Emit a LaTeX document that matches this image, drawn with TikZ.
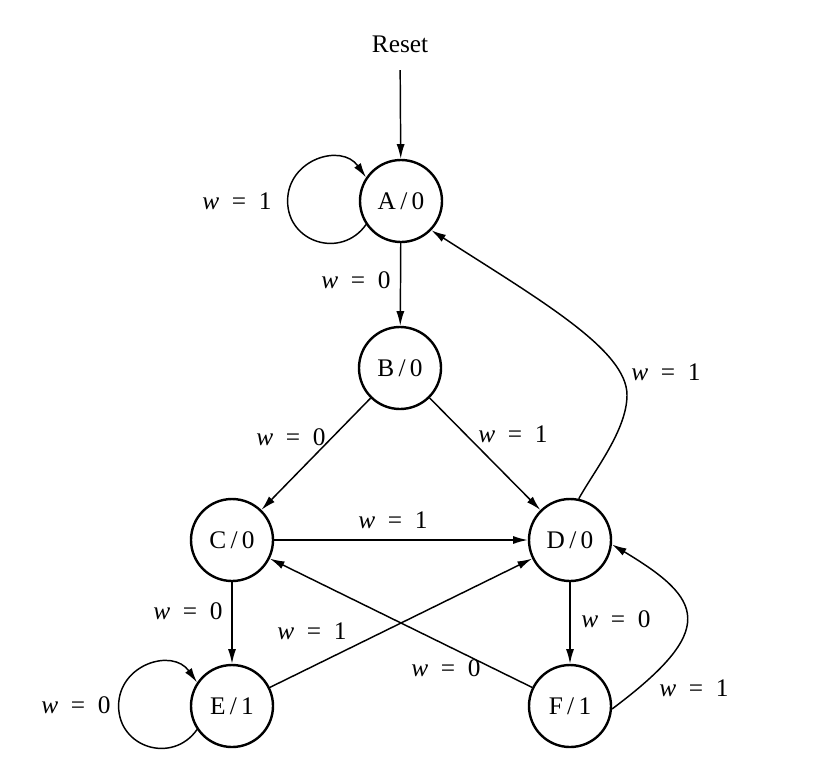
\documentclass[tikz,border=0pt]{standalone}
\usepackage{fontspec}
\setmainfont{Liberation Serif}
\usetikzlibrary{arrows.meta}
\newcommand{\wlab}[1]{{\itshape w}\hspace{0.5em}=\hspace{0.5em}#1}
\newcommand{\stlab}[2]{#1\hspace{0.17em}/\hspace{0.17em}#2}
\begin{document}
\begin{tikzpicture}[x=0.75pt,y=-0.75pt,
  fsm/.style={circle,draw,line width=1.8pt,minimum size=61.5pt,inner sep=0pt,font=\fontsize{19}{22}\selectfont},
  lbl/.style={font=\fontsize{19}{22}\selectfont,inner sep=0pt},
  tr/.style={line width=1.1pt,-{Latex[length=11pt,width=6pt]}}]
\path[use as bounding box] (0,0) rectangle (830,764);

% states
\node[fsm] (A) at (401,201) {\stlab{A}{0}};
\node[fsm] (B) at (400,368) {\stlab{B}{0}};
\node[fsm] (C) at (232,540) {\stlab{C}{0}};
\node[fsm] (D) at (570,540) {\stlab{D}{0}};
\node[fsm] (E) at (232,706) {\stlab{E}{1}};
\node[fsm] (F) at (570,706) {\stlab{F}{1}};

\node[lbl] (reset) at (400,44) {Reset};
\coordinate (da) at (627,395);
\coordinate (al) at (287.6,201);
\coordinate (el) at (118.6,706);

% transitions
\draw[tr, shorten <=13pt] (reset) -- (A);
\draw[tr] (A.214) .. controls (341.4,259.4) and (287.6,242.7) .. (al)
                  .. controls (287.6,159.3) and (341.4,142.6) .. (A.146);
\draw[tr] (A) -- (B);
\draw[tr] (B) -- (C);
\draw[tr] (B) -- (D);
\draw[tr] (C) -- (D);
\draw[tr] (C) -- (E);
\draw[tr] (D) -- (F);
\draw[tr] (E) -- (D);
\draw[tr] (F) -- (C);
\draw[tr] (E.214) .. controls (172.4,764.4) and (118.6,747.7) .. (el)
                  .. controls (118.6,664.3) and (172.4,647.6) .. (E.146);
\draw[tr] (F.-4) .. controls (719,629) and (703,599) .. (D.-6);
\draw[tr] (D.78) .. controls (594,471) and (627,430) .. (da) .. controls (627,350) and (540,300) .. (A.-44);

% labels
\node[lbl] (l1) at (237,201) {\wlab{1}};
\node[lbl] (l2) at (356,280) {\wlab{0}};
\node[lbl] (l3) at (291,437) {\wlab{0}};
\node[lbl] (l4) at (513,434) {\wlab{1}};
\node[lbl] (l5) at (393,520) {\wlab{1}};
\node[lbl] (l6) at (188,611) {\wlab{0}};
\node[lbl] (l7) at (312,631) {\wlab{1}};
\node[lbl] (l8) at (446,668) {\wlab{0}};
\node[lbl] (l9) at (616,619) {\wlab{0}};
\node[lbl] (l10) at (694,688) {\wlab{1}};
\node[lbl] (l11) at (666,372) {\wlab{1}};
\node[lbl] (l12) at (76,705) {\wlab{0}};
\end{tikzpicture}
\end{document}
